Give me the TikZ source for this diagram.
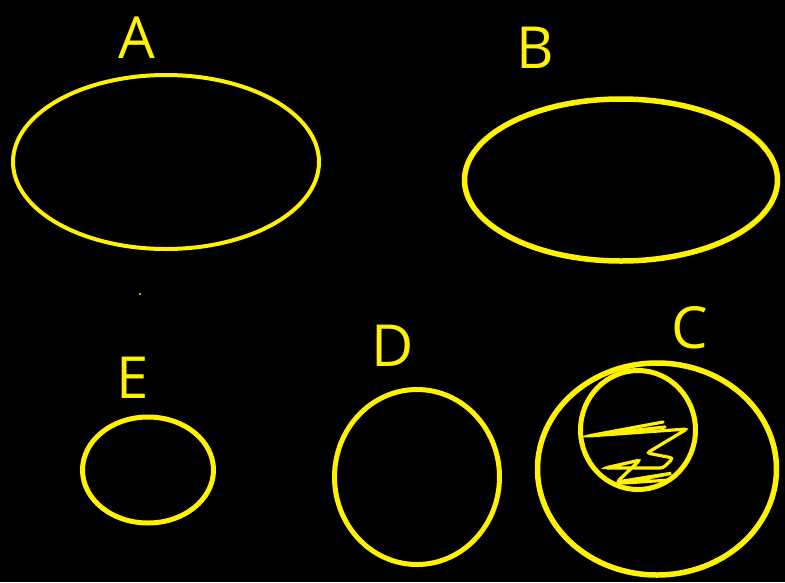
\documentclass[tikz,border=0pt]{standalone}
\usepackage{fontspec}
\setmainfont{Open Sans}
\usepackage{tikz}
\usetikzlibrary{shapes.geometric, positioning}
\definecolor{PenYellow}{RGB}{255,242,0}
\definecolor{BoardBlack}{RGB}{0,0,0}

\begin{document}
\begin{tikzpicture}[x=1pt, y=-1pt, every node/.style={font=\fontsize{58}{58}\selectfont, text=PenYellow}]
                \fill[BoardBlack] (0,0) rectangle (785,582);
                \useasboundingbox (0,0) rectangle (785,582);
                \tikzset{ring/.style={draw=PenYellow, ellipse, line width=5pt, inner sep=0pt}}
                \node[ring, line width=4pt, minimum width=306pt, minimum height=174pt] (setA) at (166,162) {};
                \node[ring, line width=5.5pt, minimum width=313pt, minimum height=162pt] (setB) at (621,180) {};
                \node[ring, minimum width=131pt, minimum height=106pt] (setE) at (148,470) {};
                \node[ring, minimum width=165pt, minimum height=175pt] (setD) at (417,477) {};
                \node[ring, line width=5.5pt, minimum width=239pt, minimum height=212pt] (setC) at (657,469) {};
                \node[ring, minimum width=115pt, minimum height=119pt] (subC) at (638,430) {};
                \node (labA) at (137,38) {A};
                \node (labB) at (535,48) {B};
                \node (labE) at (133,378) {E};
                \node (labD) at (393,346) {D};
                \node (labC) at (690,328) {C};
                % shading inside the small circle
                \draw[PenYellow, line width=3.2pt, line cap=round, rounded corners=3pt]
                    (663,422) -- (588,436) -- (687,429) -- (647,453) -- (673,458) -- (663,468)
                    -- (605,468) -- (640,460) -- (617,482) -- (673,473) -- (623,483) -- (670,480);
                \draw[PenYellow, line width=3.2pt, line cap=round] (610,433) -- (665,427);
                \fill[PenYellow] (140,294) circle (1.2pt);
            \end{tikzpicture}
\end{document}
